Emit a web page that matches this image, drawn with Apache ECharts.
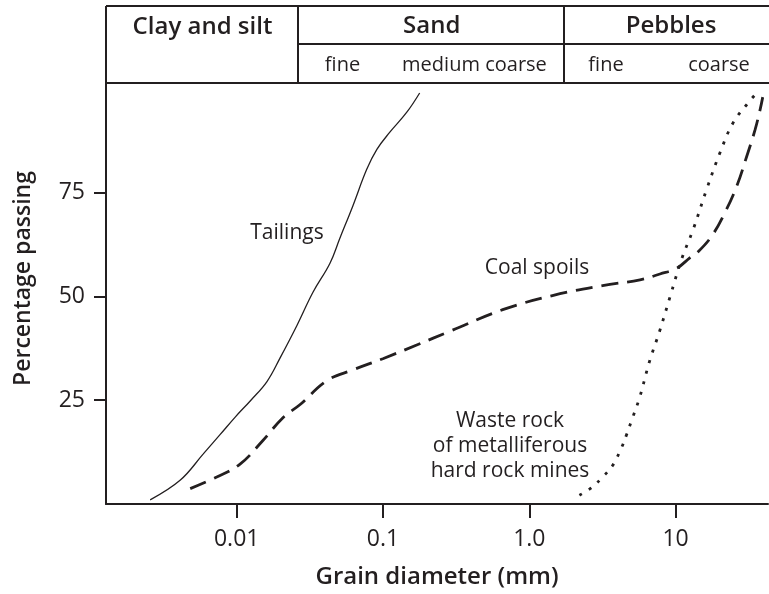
<!DOCTYPE html>
<html><head><meta charset="utf-8">
<script src="https://cdn.jsdelivr.net/npm/echarts@6/dist/echarts.min.js"></script>
<style>html,body{margin:0;padding:0;background:#fff}#c{width:769px;height:594px}</style>
</head><body><div id="c"></div>
<script>
// ---- data (grain diameter in mm, percentage passing) ----
const tailingsD = [0.00256,0.0041,0.00589,0.00769,0.0098,0.0125,0.0161,0.0198,0.0258,0.0332,0.0434,0.0507,0.0622,0.0774,0.0908,0.111,0.145,0.178];
const tailingsP = [1.0,5.7,12,16.7,21,25,29.5,35.2,43,51,58,64,71.8,80.6,85.4,89.5,94.3,99];
const coalD = [0.00481,0.0073,0.01054,0.0151,0.0207,0.027,0.0413,0.0622,0.0998,0.17,0.286,0.658,1.44,3.17,5.71,7.82,10.2,12.5,14.2,17.7,21.8,26.2,30.6,34.9,37.8,39.4];
const coalP = [3.7,6.5,9.6,15.3,20.8,23.9,29.7,32.3,35.0,38.3,41.6,46.8,50.2,52.6,54.0,55.4,56.8,59.3,60.7,64.6,70.3,76.6,83.7,90.1,95.0,98];
const wasteD = [2.2,2.7,3.17,3.71,4.27,4.62,5.0,5.67,6.64,7.77,9.16,11.0,13.2,16.3,20.1,24.7,31.3,35.8];
const wasteP = [2.1,4.1,6.5,9.3,13.6,16.7,20.1,25.6,34.4,41.6,49.9,59.0,66.2,75.8,84.6,91.8,96.6,99];
const xTicks = [0.01, 0.1, 1, 10];
const xTickLabels = ['0.01', '0.1', '1.0', '10'];
const yTicks = [25, 50, 75];
const xRange = [0.001278, 42.8];
const yRange = [0, 101.4];
const groupLabels = ['Clay and silt', 'Sand', 'Pebbles'];
const subLabels = ['fine', 'medium', 'coarse', 'fine', 'coarse'];
const curveLabels = ['Tailings', 'Coal spoils', 'Waste rock\nof metalliferous\nhard rock mines'];

const INK = '#231f20';
const FONT = '"Open Sans", "Noto Sans", sans-serif';
const zip = (a, b) => a.map((v, i) => [v, b[i]]);

// layout (pixels) for decorations
const groupPos = [[202.5, 27], [431.7, 26], [671, 26]];
const subPos = [[342.5, 65], [441, 65], [516, 65], [606, 65], [719, 65]];
const curveLabelPos = [[287, 233], [537, 268], [510, 446]];

const graphics = [];
const ln = (x1, y1, x2, y2) => graphics.push({type: 'line', shape: {x1, y1, x2, y2}, style: {stroke: INK, lineWidth: 2}, z: 10});
ln(106, 6, 769, 6);
ln(298, 44, 769, 44);
ln(106, 83, 769, 83);
ln(106, 6, 106, 84);
ln(298, 6, 298, 83);
ln(564, 6, 564, 83);
groupLabels.forEach((t, i) => graphics.push({type: 'text', x: groupPos[i][0], y: groupPos[i][1],
  style: {text: t, font: '600 24px ' + FONT, fill: INK, align: 'center', verticalAlign: 'middle'}}));
subLabels.forEach((t, i) => graphics.push({type: 'text', x: subPos[i][0], y: subPos[i][1],
  style: {text: t, font: '400 20px ' + FONT, fill: INK, align: 'center', verticalAlign: 'middle'}}));
curveLabels.forEach((t, i) => graphics.push({type: 'text', x: curveLabelPos[i][0], y: curveLabelPos[i][1],
  style: {text: t, font: '400 21px ' + FONT, fill: INK, align: 'center', verticalAlign: 'middle', lineHeight: 25}}));

const chart = echarts.init(document.getElementById('c'), null, {renderer: 'canvas'});
chart.setOption({
  animation: false,
  backgroundColor: '#fff',
  grid: {left: 106, right: 1, top: 83, bottom: 87, containLabel: false},
  xAxis: {
    type: 'log', min: xRange[0], max: xRange[1], logBase: 10,
    name: 'Grain diameter (mm)', nameLocation: 'middle', nameGap: 61,
    nameTextStyle: {fontFamily: FONT, fontWeight: 600, fontSize: 24, color: INK},
    axisLine: {lineStyle: {color: INK, width: 2}},
    axisTick: {show: true, length: 14, lineStyle: {color: INK, width: 2}, customValues: xTicks},
    axisLabel: {customValues: xTicks, margin: 24, fontFamily: FONT, fontSize: 23, color: INK,
      formatter: v => { const i = xTicks.findIndex(t => Math.abs(Math.log10(t) - Math.log10(v)) < 1e-6); return i >= 0 ? xTickLabels[i] : ''; }},
    splitLine: {show: false}, minorTick: {show: false}
  },
  yAxis: {
    type: 'value', min: yRange[0], max: yRange[1],
    name: 'Percentage passing', nameLocation: 'middle', nameGap: 71, nameRotate: 90,
    nameTextStyle: {fontFamily: FONT, fontWeight: 600, fontSize: 23, color: INK, padding: [0, 0, 0, 30]},
    axisLine: {show: true, lineStyle: {color: INK, width: 2}},
    axisTick: {show: true, length: 12, lineStyle: {color: INK, width: 2}, customValues: yTicks},
    axisLabel: {customValues: yTicks, margin: 21, fontFamily: FONT, fontSize: 23, color: INK},
    splitLine: {show: false}
  },
  graphic: graphics,
  series: [
    {type: 'line', name: 'Tailings', data: zip(tailingsD, tailingsP), showSymbol: false, smooth: 0.4,
      lineStyle: {color: INK, width: 1.3, type: 'solid'}},
    {type: 'line', name: 'Coal spoils', data: zip(coalD, coalP), showSymbol: false, smooth: 0.4,
      lineStyle: {color: INK, width: 2.8, type: [17, 9]}},
    {type: 'line', name: 'Waste rock', data: zip(wasteD, wasteP), showSymbol: false, smooth: 0.4,
      lineStyle: {color: INK, width: 2.8, type: [3, 8]}}
  ]
});
</script></body></html>
